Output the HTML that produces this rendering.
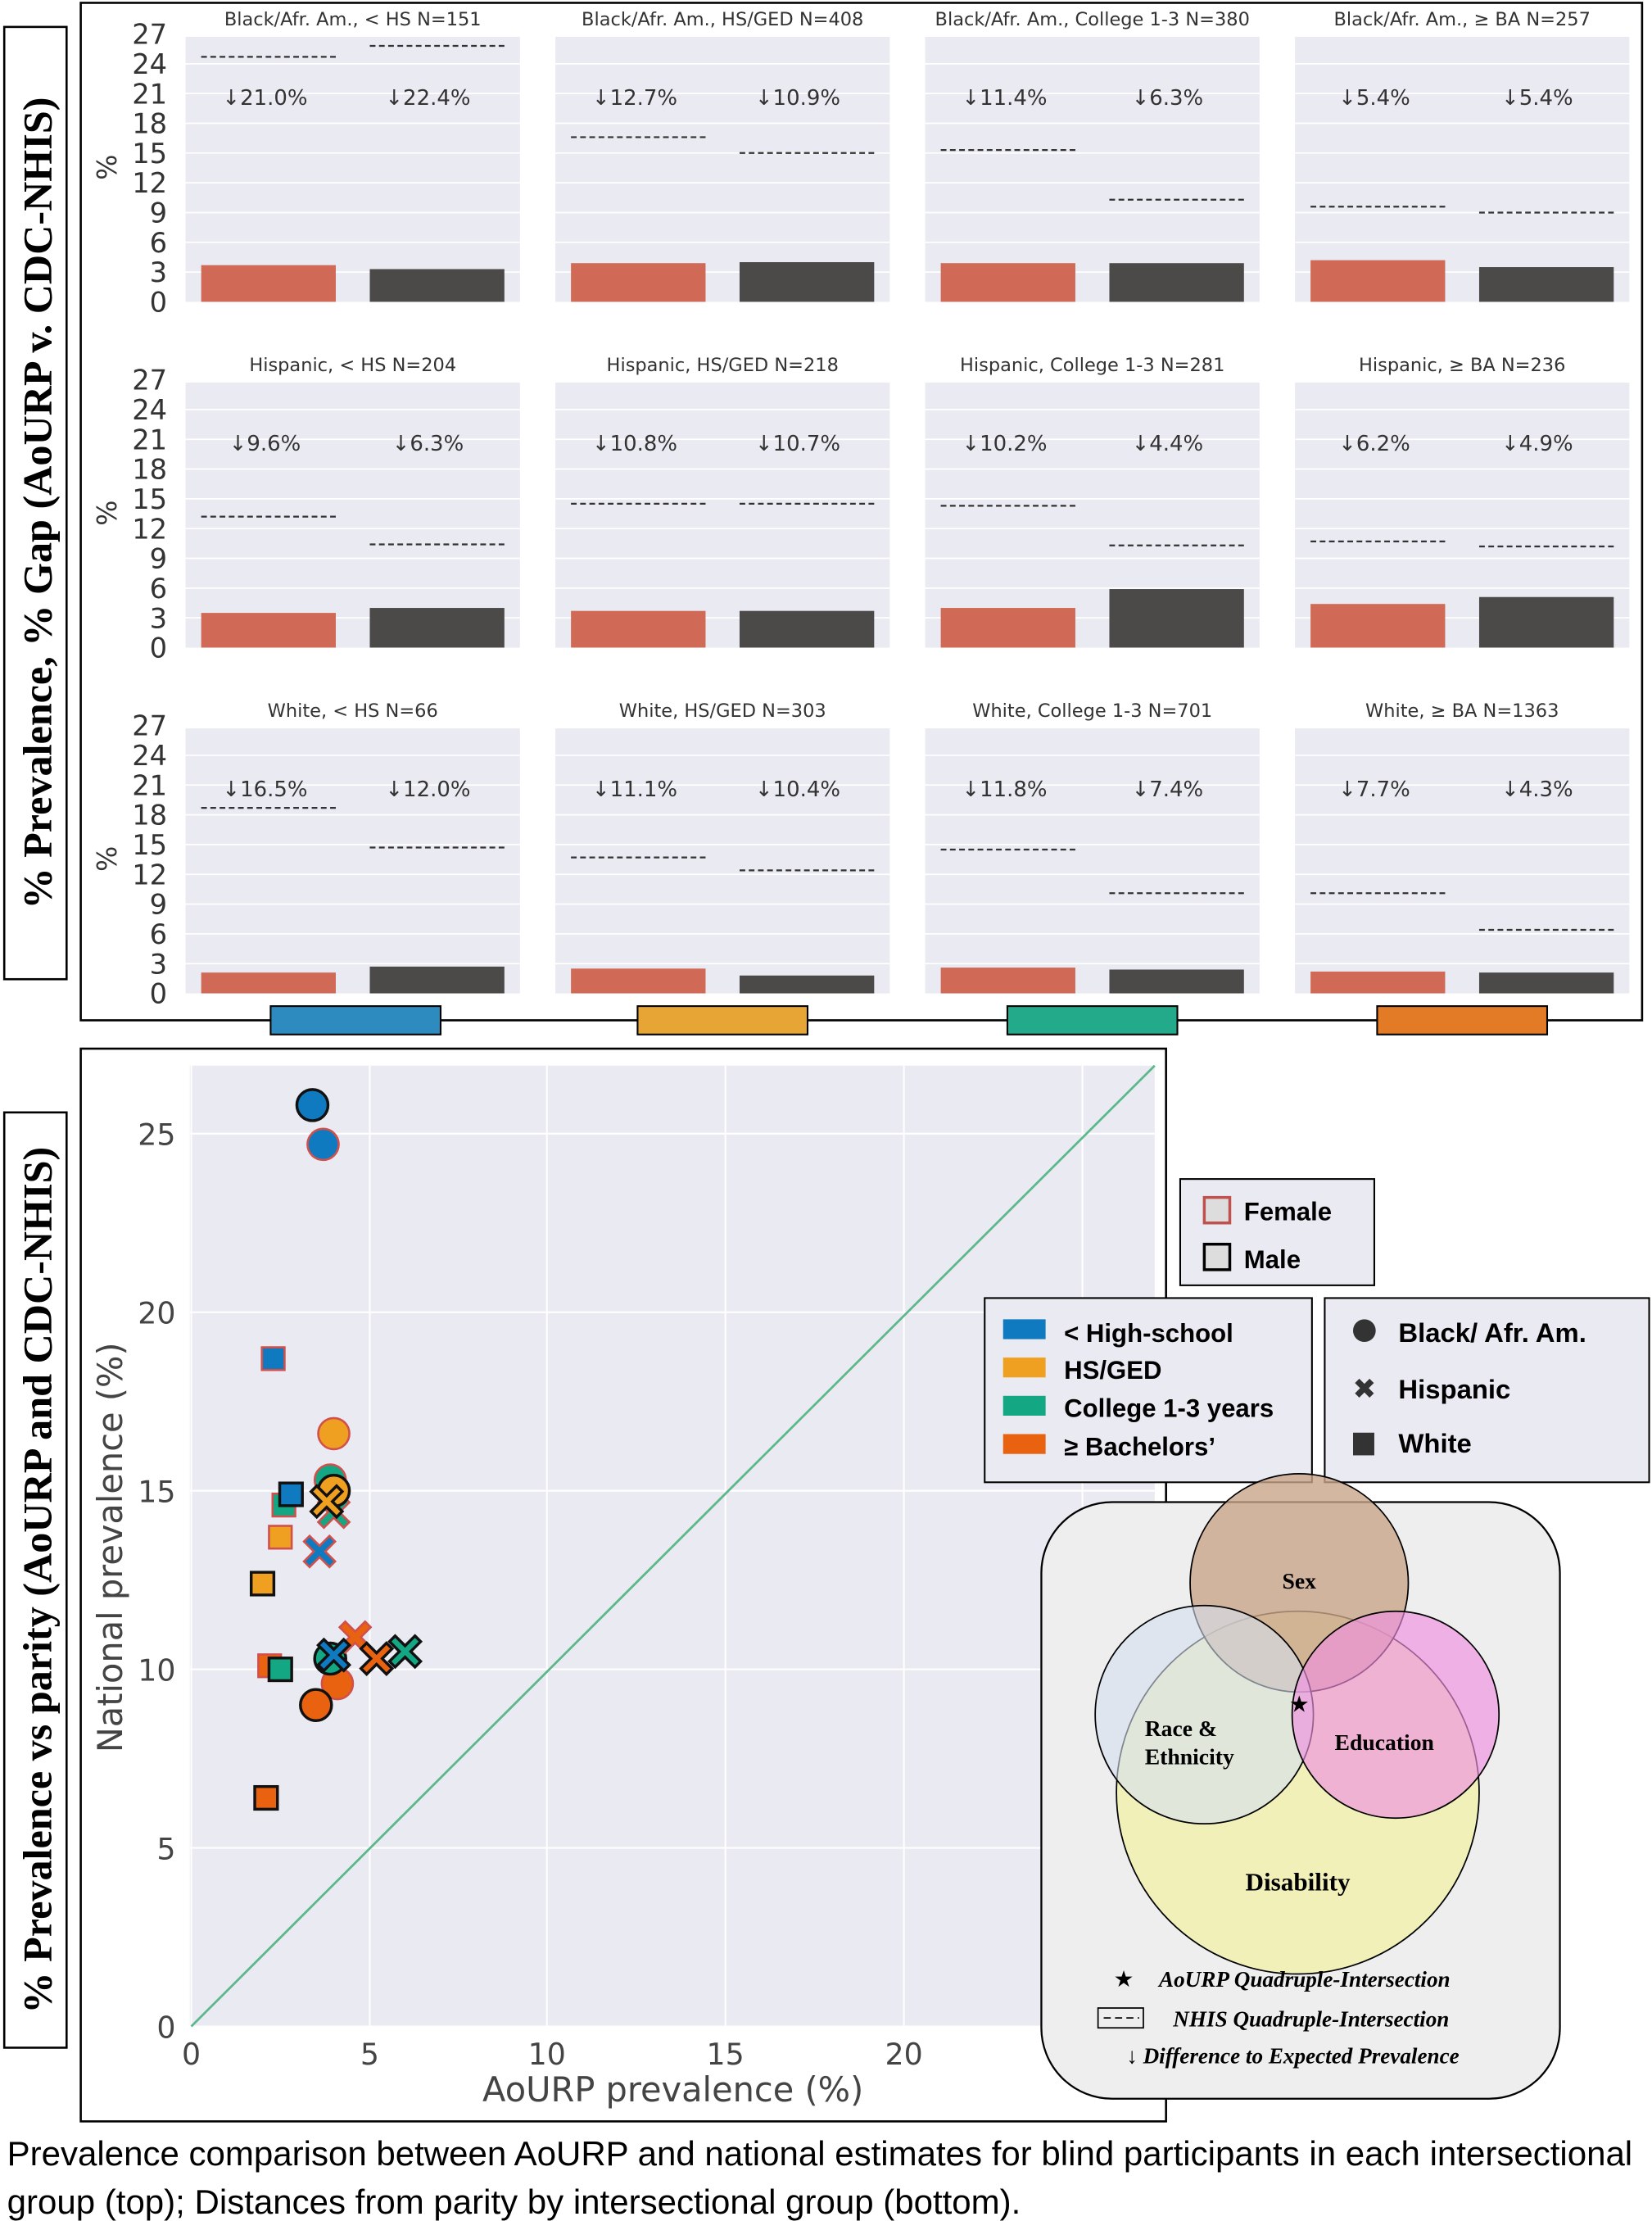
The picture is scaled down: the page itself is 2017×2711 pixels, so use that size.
<!DOCTYPE html>
<html><head><meta charset="utf-8"><style>
html,body{margin:0;padding:0;background:#fff;}
svg{display:block;}
</style></head><body>
<svg width="2017" height="2711" viewBox="0 0 1166 1567.3" preserveAspectRatio="none" xmlns="http://www.w3.org/2000/svg" font-family="DejaVu Sans, Liberation Sans, sans-serif">
<rect width="1166" height="1568" fill="#fff"/>
<rect x="57" y="2" width="1102" height="718" fill="none" stroke="#000" stroke-width="1.5"/>
<rect x="3" y="19" width="44" height="672" fill="#fff" stroke="#000" stroke-width="1.5"/>
<text transform="translate(36,355) rotate(-90)" text-anchor="middle" font-family="Liberation Serif, serif" font-weight="bold" font-size="29">% Prevalence, % Gap (AoURP v. CDC-NHIS)</text>
<g id="panels"></g>
<rect x="191" y="710" width="120" height="20" fill="#2e8bc0" stroke="#000" stroke-width="1.2"/>
<rect x="450" y="710" width="120" height="20" fill="#e6a535" stroke="#000" stroke-width="1.2"/>
<rect x="711" y="710" width="120" height="20" fill="#22aa8a" stroke="#000" stroke-width="1.2"/>
<rect x="972" y="710" width="120" height="20" fill="#e27a26" stroke="#000" stroke-width="1.2"/>

<rect x="57" y="740" width="766" height="757" fill="none" stroke="#000" stroke-width="1.5"/>
<rect x="3" y="785" width="44" height="660" fill="#fff" stroke="#000" stroke-width="1.5"/>
<text transform="translate(36,1115) rotate(-90)" text-anchor="middle" font-weight="bold" font-size="29" font-family="Liberation Serif, serif">% Prevalence vs parity (AoURP and CDC-NHIS)</text>
<rect x="134" y="752" width="681" height="678" fill="#eaeaf2"/>
<g stroke="#fff" stroke-width="1.2">
<line x1="135" y1="752" x2="135" y2="1430"/><line x1="261" y1="752" x2="261" y2="1430"/><line x1="386" y1="752" x2="386" y2="1430"/><line x1="512" y1="752" x2="512" y2="1430"/><line x1="638" y1="752" x2="638" y2="1430"/><line x1="764" y1="752" x2="764" y2="1430"/>
<line x1="134" y1="1430" x2="815" y2="1430"/><line x1="134" y1="1304" x2="815" y2="1304"/><line x1="134" y1="1178" x2="815" y2="1178"/><line x1="134" y1="1052" x2="815" y2="1052"/><line x1="134" y1="926" x2="815" y2="926"/><line x1="134" y1="800" x2="815" y2="800"/>
</g>
<line x1="135" y1="1430" x2="815" y2="752" stroke="#5cb88a" stroke-width="1.6"/>
<g font-size="21" fill="#444" text-anchor="middle">
<text x="135" y="1457">0</text><text x="261" y="1457">5</text><text x="386" y="1457">10</text><text x="512" y="1457">15</text><text x="638" y="1457">20</text>
</g>
<g font-size="21" fill="#444" text-anchor="end">
<text x="124" y="1438">0</text><text x="124" y="1312">5</text><text x="124" y="1186">10</text><text x="124" y="1060">15</text><text x="124" y="934">20</text><text x="124" y="808">25</text>
</g>
<text x="475" y="1483" font-size="24" fill="#444" text-anchor="middle">AoURP prevalence (%)</text>
<text transform="translate(86,1092) rotate(-90)" font-size="24" fill="#444" text-anchor="middle">National prevalence (%)</text>
<g id="pts"></g>

<rect x="833" y="832" width="137" height="75" fill="#eaeaf2" stroke="#000" stroke-width="1.2"/>
<g font-size="18" font-weight="bold" font-family="Liberation Sans, sans-serif">
<rect x="850" y="845" width="18" height="18" fill="#ddd" stroke="#c0504d" stroke-width="2"/>
<text x="878" y="861">Female</text>
<rect x="850" y="878" width="18" height="18" fill="#ddd" stroke="#000" stroke-width="2"/>
<text x="878" y="895">Male</text>
</g>
<rect x="695" y="916" width="231" height="130" fill="#eaeaf2" stroke="#000" stroke-width="1.2"/>
<g font-size="18" font-weight="bold" font-family="Liberation Sans, sans-serif">
<rect x="708" y="931" width="30" height="14" fill="#0f7abf"/><text x="751" y="947">&lt; High-school</text>
<rect x="708" y="958" width="30" height="14" fill="#f0a020"/><text x="751" y="973">HS/GED</text>
<rect x="708" y="985" width="30" height="14" fill="#13a883"/><text x="751" y="1000">College 1-3 years</text>
<rect x="708" y="1012" width="30" height="14" fill="#e8620f"/><text x="751" y="1027">≥ Bachelors’</text>
</g>
<rect x="935" y="916" width="229" height="130" fill="#eaeaf2" stroke="#000" stroke-width="1.2"/>
<g font-size="19" font-weight="bold" font-family="Liberation Sans, sans-serif">
<circle cx="963" cy="939" r="8" fill="#333"/><text x="987" y="947">Black/ Afr. Am.</text>
<text x="963" y="987" font-size="20" text-anchor="middle" fill="#333" font-family="DejaVu Sans, sans-serif">✖</text><text x="987" y="987">Hispanic</text>
<rect x="955" y="1011" width="15" height="16" fill="#333"/><text x="987" y="1025">White</text>
</g>

<rect x="735" y="1060" width="366" height="421" rx="50" fill="#eeeeee" stroke="#000" stroke-width="1.3"/>
<circle cx="916" cy="1265" r="128" fill="#f0f0b8" stroke="#000" stroke-width="1"/>
<circle cx="917" cy="1117" r="77" fill="#c9a58a" fill-opacity="0.8" stroke="#000" stroke-width="1"/>
<circle cx="850" cy="1210" r="77" fill="#d6e0ee" fill-opacity="0.6" stroke="#000" stroke-width="1"/>
<circle cx="985" cy="1210" r="73" fill="#f090e0" fill-opacity="0.65" stroke="#000" stroke-width="1"/>
<g font-family="Liberation Serif, serif" font-weight="bold" font-size="16">
<text x="917" y="1121" text-anchor="middle">Sex</text>
<text x="808" y="1225">Race &amp;</text><text x="808" y="1245">Ethnicity</text>
<text x="942" y="1235">Education</text>
<text x="916" y="1334" text-anchor="middle" font-size="18">Disability</text>
<text x="917" y="1208" text-anchor="middle" font-size="16" font-family="DejaVu Sans, sans-serif">★</text>
</g>
<g font-family="Liberation Serif, serif" font-style="italic" font-weight="bold" font-size="15.7">
<text x="786" y="1402" font-style="normal" font-size="16" font-family="DejaVu Sans, sans-serif">★</text><text x="818" y="1402">AoURP Quadruple-Intersection</text>
<rect x="775" y="1417" width="32" height="14" fill="none" stroke="#000" stroke-width="1"/>
<line x1="779" y1="1424" x2="804" y2="1424" stroke="#000" stroke-dasharray="5,3"/>
<text x="828" y="1430">NHIS Quadruple-Intersection</text>
<text x="795" y="1456">↓ Difference to Expected Prevalence</text>
</g>
<g font-size="24.3" font-family="Liberation Sans, sans-serif">
<text x="5" y="1528">Prevalence comparison between AoURP and national estimates for blind participants in each intersectional</text>
<text x="5" y="1562">group (top); Distances from parity by intersectional group (bottom).</text>
</g>
</svg>
<script>
var NS="http://www.w3.org/2000/svg";
function el(p,t,a,txt){var e=document.createElementNS(NS,t);for(var k in a)e.setAttribute(k,a[k]);if(txt!==undefined)e.textContent=txt;p.appendChild(e);return e;}
var g=document.getElementById("panels");
var titles=[["Black/Afr. Am., < HS N=151","Black/Afr. Am., HS/GED N=408","Black/Afr. Am., College 1-3 N=380","Black/Afr. Am., ≥ BA N=257"],
["Hispanic, < HS N=204","Hispanic, HS/GED N=218","Hispanic, College 1-3 N=281","Hispanic, ≥ BA N=236"],
["White, < HS N=66","White, HS/GED N=303","White, College 1-3 N=701","White, ≥ BA N=1363"]];
var data=[[[3.7,3.3,24.7,25.8,"21.0","22.4"],[3.9,4.0,16.6,15.0,"12.7","10.9"],[3.9,3.9,15.3,10.3,"11.4","6.3"],[4.2,3.5,9.6,9.0,"5.4","5.4"]],
[[3.5,4.0,13.2,10.4,"9.6","6.3"],[3.7,3.7,14.5,14.5,"10.8","10.7"],[4.0,5.9,14.3,10.3,"10.2","4.4"],[4.4,5.1,10.7,10.2,"6.2","4.9"]],
[[2.1,2.7,18.7,14.7,"16.5","12.0"],[2.5,1.8,13.7,12.4,"11.1","10.4"],[2.6,2.4,14.5,10.1,"11.8","7.4"],[2.2,2.1,10.1,6.4,"7.7","4.3"]]];
var cols=[131,392,653,914];
for(var r=0;r<3;r++){var y0=213+r*244,k=7.0;
 for(var v=0;v<=27;v+=3){el(g,"text",{x:118,y:y0-v*k+7,"font-size":19.5,"text-anchor":"end",fill:"#333"},""+v);}
 el(g,"text",{transform:"translate(82,"+(y0-95)+") rotate(-90)","font-size":19,"text-anchor":"middle",fill:"#333"},"%");
 for(var c=0;c<4;c++){var x=cols[c],d=data[r][c];
  el(g,"rect",{x:x,y:y0-187,width:236,height:187,fill:"#eaeaf2"});
  for(var v=3;v<=27;v+=3)el(g,"line",{x1:x,x2:x+236,y1:y0-v*k,y2:y0-v*k,stroke:"#fff","stroke-width":1});
  el(g,"text",{x:x+118,y:y0-195,"font-size":13,"text-anchor":"middle",fill:"#333"},titles[r][c]);
  el(g,"rect",{x:x+11,y:y0-d[0]*k,width:95,height:d[0]*k,fill:"#d06a57"});
  el(g,"rect",{x:x+130,y:y0-d[1]*k,width:95,height:d[1]*k,fill:"#4b4a49"});
  el(g,"line",{x1:x+11,x2:x+107,y1:y0-d[2]*k,y2:y0-d[2]*k,stroke:"#333","stroke-width":1.3,"stroke-dasharray":"4,2.5"});
  el(g,"line",{x1:x+130,x2:x+226,y1:y0-d[3]*k,y2:y0-d[3]*k,stroke:"#333","stroke-width":1.3,"stroke-dasharray":"4,2.5"});
  el(g,"text",{x:x+56,y:y0-139,"font-size":15,"text-anchor":"middle",fill:"#333"},"↓"+d[4]+"%");
  el(g,"text",{x:x+171,y:y0-139,"font-size":15,"text-anchor":"middle",fill:"#333"},"↓"+d[5]+"%");
 }}
var P=document.getElementById("pts");
var C={b:"#0f7abf",o:"#f0a020",g:"#13a883",d:"#e8620f"};
function px(v){return 135+v*25.15;}function py(v){return 1430-v*25.2;}
var pts=[
["s","d",2.1,6.4,"m"],["s","d",2.2,10.1,"f"],["s","g",2.5,10.0,"m"],["s","o",2.0,12.4,"m"],["s","o",2.5,13.7,"f"],["s","g",2.6,14.6,"f"],["s","b",2.3,18.7,"f"],["s","b",2.8,14.9,"m"],
["c","d",4.1,9.6,"f"],["c","d",3.5,9.0,"m"],["c","g",3.9,10.3,"m"],
["x","d",4.6,10.9,"f"],["x","d",5.2,10.3,"m"],["x","g",6.0,10.5,"m"],["x","b",4.0,10.4,"m"],
["c","g",3.9,15.3,"f"],["c","o",4.0,16.6,"f"],["x","g",4.0,14.4,"f"],["c","o",4.0,15.0,"m"],["x","o",3.8,14.7,"m"],["x","b",3.6,13.3,"f"],
["c","b",3.7,24.7,"f"],["c","b",3.4,25.8,"m"]];
pts.forEach(function(p){var x=px(p[2]),y=py(p[3]),st=p[4]=="m"?"#111":"#d0504d",sw=p[4]=="m"?2:1.5,f=C[p[1]];
 if(p[0]=="c")el(P,"circle",{cx:x,cy:y,r:11,fill:f,stroke:st,"stroke-width":sw});
 else if(p[0]=="s")el(P,"rect",{x:x-8,y:y-8,width:16,height:16,fill:f,stroke:st,"stroke-width":sw});
 else{var a=11,b=4;var d="M"+(x-a+b)+","+(y-a)+" L"+x+","+(y-b)+" L"+(x+a-b)+","+(y-a)+" L"+(x+a)+","+(y-a+b)+" L"+(x+b)+","+y+" L"+(x+a)+","+(y+a-b)+" L"+(x+a-b)+","+(y+a)+" L"+x+","+(y+b)+" L"+(x-a+b)+","+(y+a)+" L"+(x-a)+","+(y+a-b)+" L"+(x-b)+","+y+" L"+(x-a)+","+(y-a+b)+" Z";
  el(P,"path",{d:d,fill:f,stroke:st,"stroke-width":sw});}
});
</script>
</body></html>
